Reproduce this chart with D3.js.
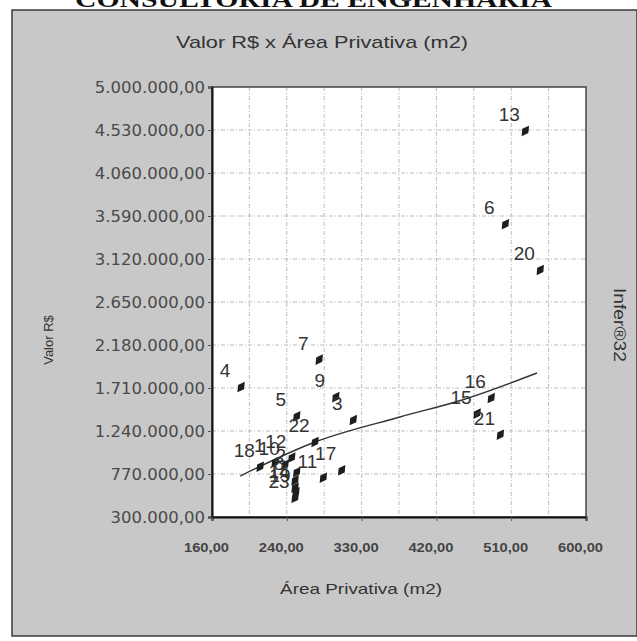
<!DOCTYPE html>
<html>
<head>
<meta charset="utf-8">
<script src="https://cdn.jsdelivr.net/npm/d3@7"></script>
<style>
  html, body { margin: 0; padding: 0; background: #ffffff; }
  svg { display: block; }
</style>
</head>
<body>
<script>
// Amostra: área privativa (m2) e valor (R$) de cada elemento
const pointIds   = ["1","2","3","4","5","6","7","8","9","10","11","12","13","14","15","16","17","18","19","20","21","22","23"];
const areaValues = [226, 252, 320, 185, 252, 503, 279, 250, 299, 238, 284, 246, 527, 250, 469, 486, 306, 208, 251, 545, 497, 274, 250];
const valorValues = [900000, 790000, 1360000, 1720000, 1400000, 3500000, 2020000, 700000, 1610000, 870000, 730000, 950000, 4520000, 620000, 1430000, 1600000, 810000, 850000, 570000, 3000000, 1200000, 1120000, 510000];

// Curva do modelo ajustado
const trendArea  = [184, 274, 376, 451, 541];
const trendValor = [748000, 1120000, 1393000, 1579000, 1874000];

// Eixos
const yTickValues = [300000, 770000, 1240000, 1710000, 2180000, 2650000, 3120000, 3590000, 4060000, 4530000, 5000000];
const xTickValues = [150, 240, 330, 420, 510, 600];
const xTickLabels = ["160,00", "240,00", "330,00", "420,00", "510,00", "600,00"];
const xGridValues = [195, 240, 285, 330, 375, 420, 465, 510, 555];

const W = 637, H = 641;
const plot = { left: 212, top: 87, right: 586, bottom: 517 };
const sans = "Liberation Sans, Arial, sans-serif";

const br = d3.formatLocale({ decimal: ",", thousands: ".", grouping: [3], currency: ["R$ ", ""] });
const fmt = br.format(",.2f");

const svg = d3.select("body").append("svg").attr("width", W).attr("height", H);

// Cabeçalho do documento, cortado pela borda superior
svg.append("text")
  .attr("x", 75).attr("y", 7)
  .attr("textLength", 477).attr("lengthAdjust", "spacingAndGlyphs")
  .attr("font-family", "Liberation Serif, serif").attr("font-weight", "bold")
  .attr("font-size", 24).attr("fill", "#111")
  .text("CONSULTORIA DE ENGENHARIA");

// Painel cinza
svg.append("rect")
  .attr("x", 12).attr("y", 10).attr("width", W - 12).attr("height", 626)
  .attr("fill", "#c8c8c8").attr("stroke", "#3a3a3a").attr("stroke-width", 1.5);

svg.append("text")
  .attr("x", 322).attr("y", 48).attr("text-anchor", "middle")
  .attr("textLength", 292).attr("lengthAdjust", "spacingAndGlyphs")
  .attr("font-family", sans).attr("font-size", 17).attr("fill", "#333")
  .text("Valor R$ x Área  Privativa  (m2)");

const x = d3.scaleLinear().domain([150, 600]).range([plot.left, plot.right]);
const y = d3.scaleLinear().domain([300000, 5000000]).range([plot.bottom, plot.top]);

// Área de plotagem
svg.append("rect")
  .attr("x", plot.left).attr("y", plot.top)
  .attr("width", plot.right - plot.left).attr("height", plot.bottom - plot.top)
  .attr("fill", "#ffffff");

const grid = svg.append("g").attr("stroke", "#bdbdbd").attr("stroke-width", 1).attr("stroke-dasharray", "4,2,1,2");
grid.selectAll("line.h").data(yTickValues.slice(1, -1)).join("line")
  .attr("x1", plot.left).attr("x2", plot.right)
  .attr("y1", d => y(d)).attr("y2", d => y(d));
grid.selectAll("line.v").data(xGridValues).join("line")
  .attr("x1", d => x(d)).attr("x2", d => x(d))
  .attr("y1", plot.top).attr("y2", plot.bottom);

// Borda da área de plotagem
svg.append("rect")
  .attr("x", plot.left).attr("y", plot.top)
  .attr("width", plot.right - plot.left).attr("height", plot.bottom - plot.top)
  .attr("fill", "none").attr("stroke", "#444").attr("stroke-width", 1.5);

// Eixo Y
const yAxis = svg.append("g").attr("transform", `translate(${plot.left},0)`)
  .call(d3.axisLeft(y).tickValues(yTickValues).tickFormat(fmt).tickSize(4).tickPadding(3));
yAxis.select(".domain").attr("stroke", "#111").attr("stroke-width", 2);
yAxis.selectAll(".tick line").attr("stroke", "#555");
yAxis.selectAll(".tick text")
  .attr("font-family", "DejaVu Sans, sans-serif").attr("font-size", 16.5).attr("fill", "#4a4a4a");

// Eixo X
const xAxis = svg.append("g").attr("transform", `translate(0,${plot.bottom})`)
  .call(d3.axisBottom(x).tickValues(xTickValues).tickFormat((d, i) => xTickLabels[i]).tickSize(4).tickPadding(22));
xAxis.select(".domain").attr("stroke", "#111").attr("stroke-width", 2);
xAxis.selectAll(".tick line").attr("stroke", "#555");
xAxis.selectAll(".tick text")
  .attr("dx", -6)
  .attr("textLength", 45).attr("lengthAdjust", "spacingAndGlyphs")
  .attr("font-family", sans)
  .attr("font-size", 13).attr("font-weight", "bold").attr("fill", "#444");

svg.append("text")
  .attr("x", 361).attr("y", 594).attr("text-anchor", "middle")
  .attr("textLength", 162).attr("lengthAdjust", "spacingAndGlyphs")
  .attr("font-family", sans).attr("font-size", 15).attr("fill", "#333")
  .text("Área Privativa (m2)");

svg.append("text")
  .attr("transform", "translate(53,340) rotate(-90)").attr("text-anchor", "middle")
  .attr("font-family", sans).attr("font-size", 13).attr("fill", "#333")
  .text("Valor R$");

svg.append("text")
  .attr("transform", "translate(614,325) rotate(90)").attr("text-anchor", "middle")
  .attr("textLength", 74).attr("lengthAdjust", "spacingAndGlyphs")
  .attr("font-family", sans).attr("font-size", 16).attr("fill", "#333")
  .text("Infer®32");

// Curva ajustada
const trend = trendArea.map((a, i) => [a, trendValor[i]]);
svg.append("path")
  .datum(trend)
  .attr("d", d3.line().x(d => x(d[0])).y(d => y(d[1])).curve(d3.curveMonotoneX))
  .attr("fill", "none").attr("stroke", "#333").attr("stroke-width", 1.4);

// Pontos
const pts = pointIds.map((id, i) => ({ id, area: areaValues[i], valor: valorValues[i] }));
const g = svg.append("g");
g.selectAll("path.pt").data(pts).join("path")
  .attr("transform", d => `translate(${x(d.area)},${y(d.valor)}) rotate(35)`)
  .attr("d", d3.symbol(d3.symbolDiamond, 48))
  .attr("fill", "#1e1e1e");
g.selectAll("text.lbl").data(pts).join("text")
  .attr("x", d => x(d.area) - 16).attr("y", d => y(d.valor) - 10)
  .attr("text-anchor", "middle")
  .attr("font-family", sans).attr("font-size", 19).attr("fill", "#333")
  .text(d => d.id);
</script>
</body>
</html>
